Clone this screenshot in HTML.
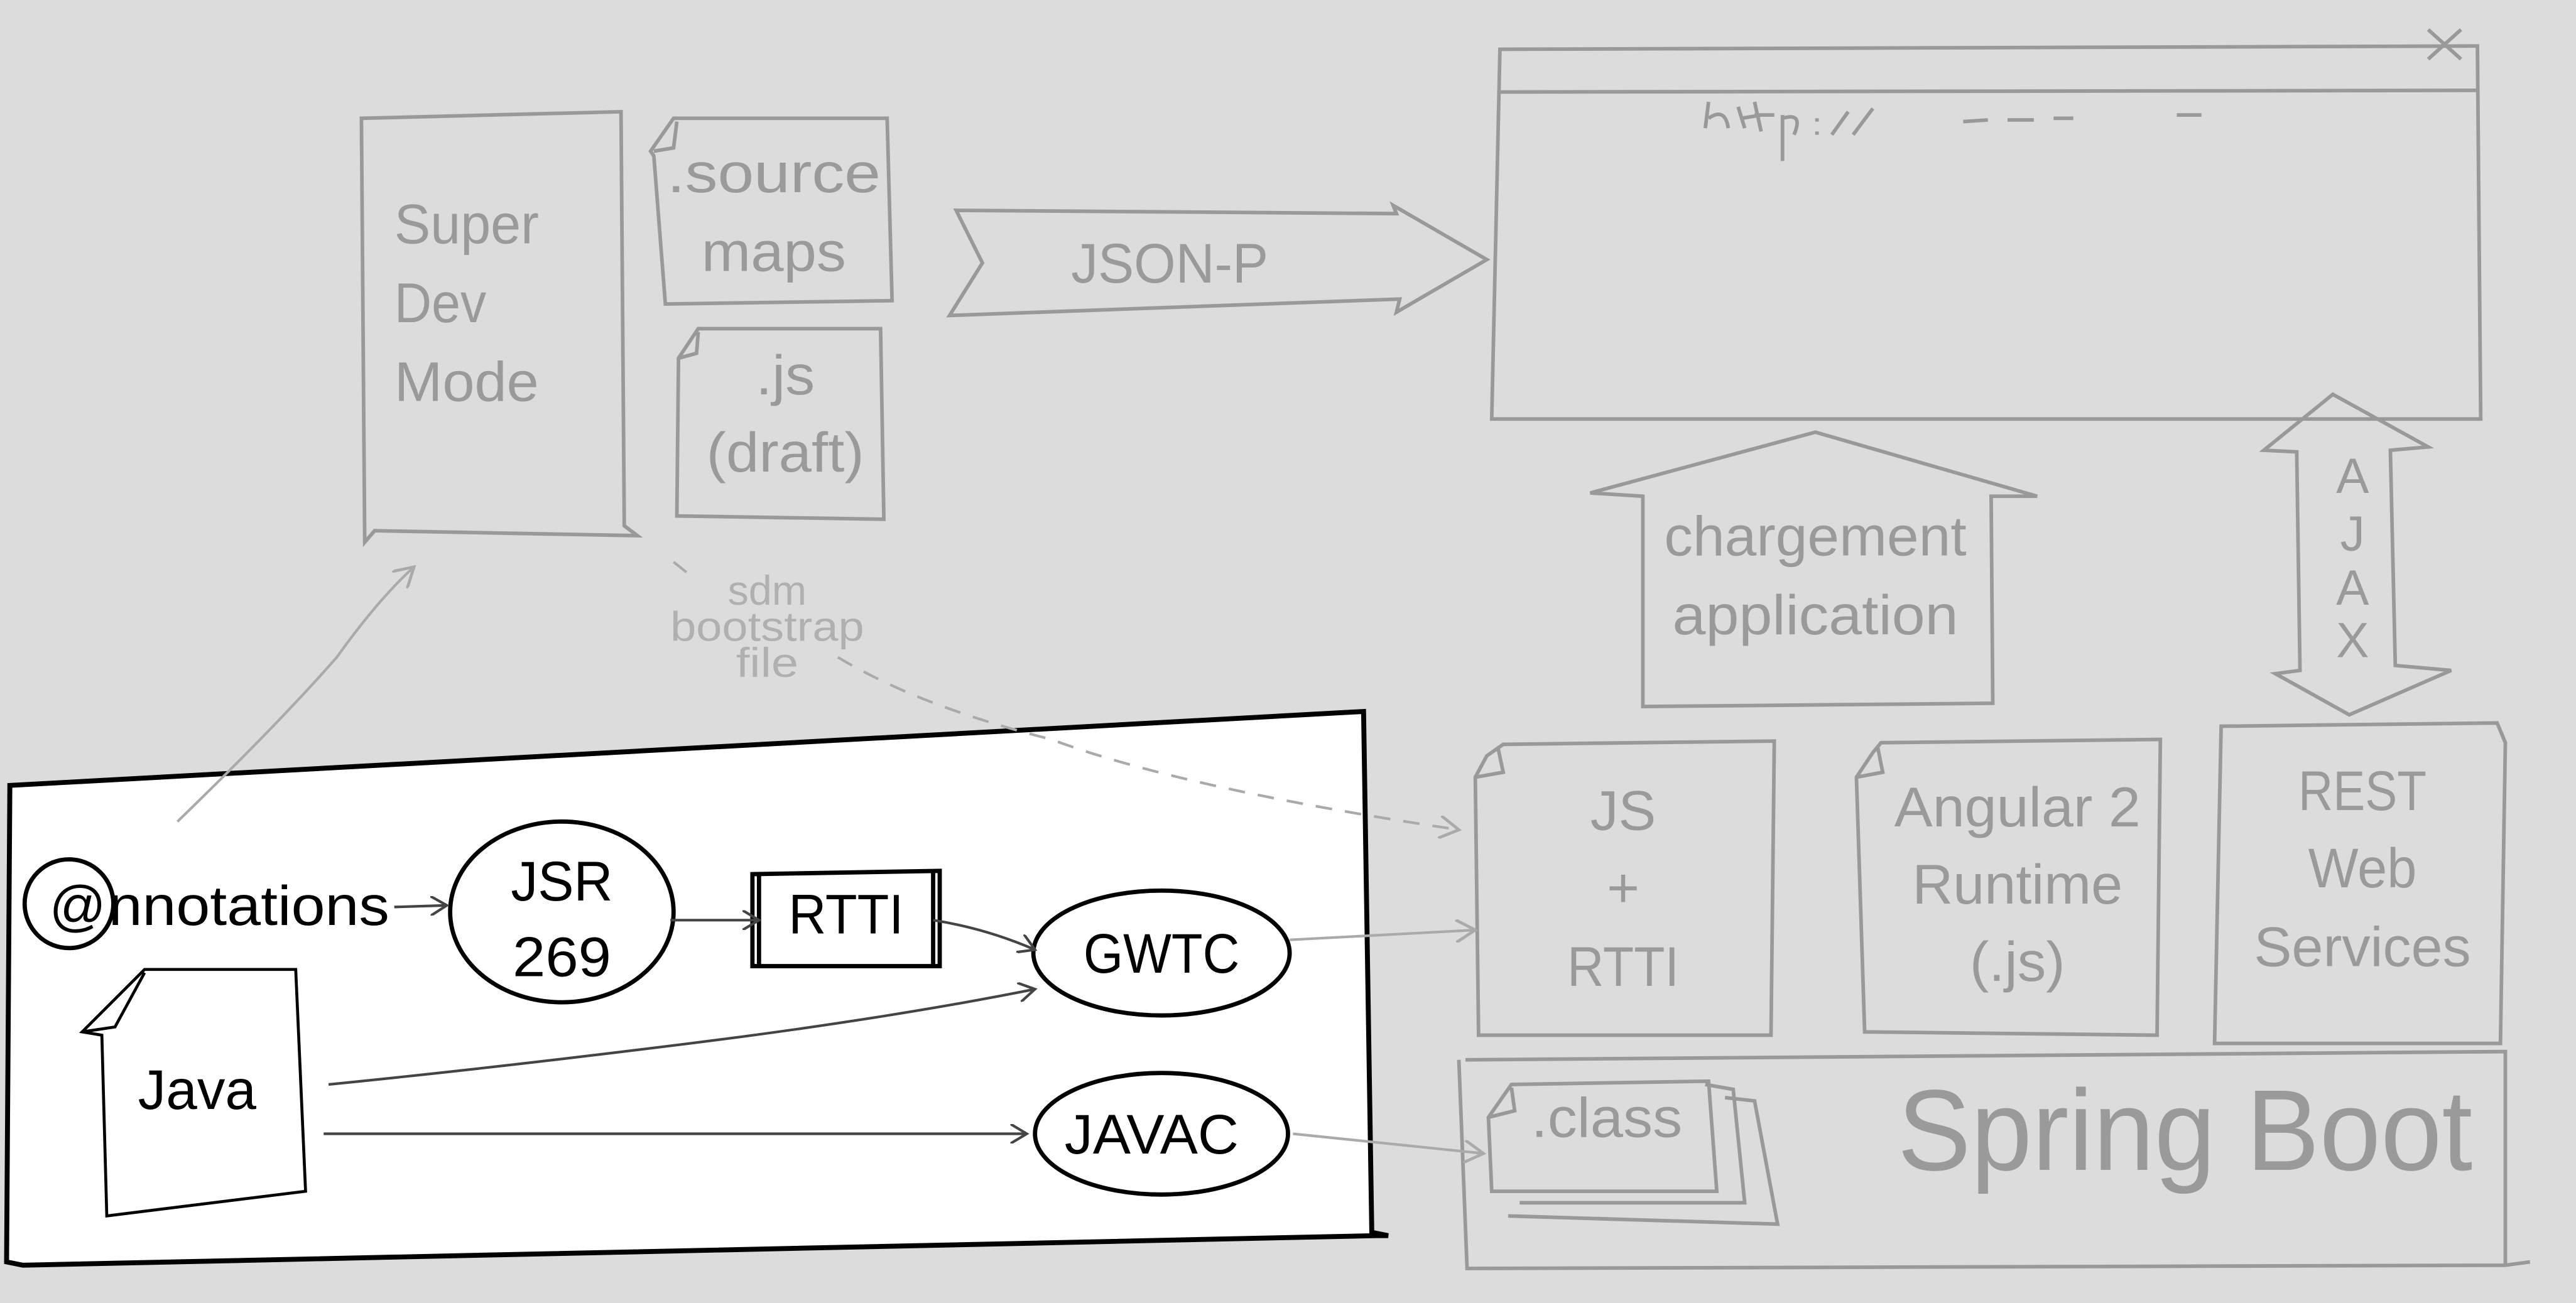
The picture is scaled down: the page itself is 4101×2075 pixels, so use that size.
<!DOCTYPE html>
<html><head><meta charset="utf-8"><style>
html,body{margin:0;padding:0;background:#dcdcdc;}
svg{display:block;}
text{font-family:"Liberation Sans",sans-serif;}
</style></head><body>
<svg width="4101" height="2075" viewBox="0 0 1568 793" preserveAspectRatio="none" xmlns="http://www.w3.org/2000/svg">
<defs>
<marker id="ab" markerWidth="12" markerHeight="12" refX="10" refY="6" orient="auto" markerUnits="userSpaceOnUse"><path d="M0,0 L10,6 L0,12" fill="none" stroke="#444" stroke-width="1.6"/></marker>
<marker id="ag" markerWidth="14" markerHeight="14" refX="12" refY="7" orient="auto" markerUnits="userSpaceOnUse"><path d="M0,0 L12,7 L0,14" fill="none" stroke="#aaa" stroke-width="1.8"/></marker>
</defs>
<rect width="1568" height="793" fill="#dcdcdc"/>
<g fill="none" stroke="#999" stroke-width="2.2">
<path d="M220,72 L378,68 L380,320 L388,326 L228,323 L222,330 Z"/>
<path d="M410,72 L540,72 L543,183 L405,185 L398,95 L396,92 Z M398,92 L410,90 L412,74"/>
<path d="M425,200 L536,200 L538,316 L412,314 L413,218 Z M413,218 L424,215 L425,202"/>
<path d="M582,128 L850,130 L848,125 L905,158 L850,190 L852,182 L578,192 L598,160 Z"/>
<path d="M913,30 L1508,28 L1510,255 L908,255 Z M913,56 L1508,55"/>
<path d="M1478,18 L1498,36 M1498,18 L1478,36"/>
<path d="M1038,78 L1040,62 M1040,72 Q1050,65 1052,78 M1058,65 L1062,78 M1060,72 L1072,70 M1068,62 L1072,80 M1068,70 L1080,70 M1085,70 L1085,98 M1085,72 Q1098,68 1092,82 M1106,72 L1106,74 M1106,80 L1106,82 M1125,68 L1115,82 M1140,66 L1128,82 M1195,74 L1210,73 M1222,73 L1238,73 M1250,72 L1262,72 M1325,70 L1340,70"/>
<path d="M1000,430 L1213,428 L1212,302 L1240,302 L1105,263 L968,300 L1000,302 Z"/>
<path d="M1420,240 L1478,272 L1455,274 L1458,405 L1492,408 L1430,435 L1385,410 L1400,408 L1398,275 L1378,274 Z"/>
<path d="M915,453 L1080,451 L1078,630 L900,630 L898,473 L905,460 Z M898,473 L915,470 L912,456"/>
<path d="M1145,452 L1315,450 L1313,630 L1135,628 L1130,473 L1140,458 Z M1130,473 L1146,470 L1143,455"/>
<path d="M1352,442 L1520,440 L1525,452 L1522,635 L1348,635 Z"/>
<path d="M892,645 L1525,640 L1525,770 L1540,768 M1525,770 L893,772 L888,645"/>
<path d="M918,740 L1082,745 L1068,670 L1050,668 M925,732 L1062,732 L1055,663 L1038,660"/>
<path d="M920,660 L1040,658 L1045,725 L908,725 L906,680 Z M906,680 L922,676 L920,662"/>
</g>
<g fill="#9a9a9a" font-size="34" lengthAdjust="spacingAndGlyphs">
<text x="240" y="148" textLength="88" lengthAdjust="spacingAndGlyphs">Super</text>
<text x="240" y="196" textLength="56" lengthAdjust="spacingAndGlyphs">Dev</text>
<text x="240" y="244" textLength="88" lengthAdjust="spacingAndGlyphs">Mode</text>
<g text-anchor="middle">
<text x="471" y="117" textLength="130" lengthAdjust="spacingAndGlyphs">.source</text>
<text x="471" y="165" textLength="88" lengthAdjust="spacingAndGlyphs">maps</text>
<text x="478" y="240" textLength="36" lengthAdjust="spacingAndGlyphs">.js</text>
<text x="478" y="287" textLength="96" lengthAdjust="spacingAndGlyphs">(draft)</text>
<text x="712" y="172" textLength="120" lengthAdjust="spacingAndGlyphs">JSON-P</text>
<text x="1105" y="338" textLength="184" lengthAdjust="spacingAndGlyphs">chargement</text>
<text x="1105" y="386" textLength="174" lengthAdjust="spacingAndGlyphs">application</text>
<text x="988" y="505" textLength="40" lengthAdjust="spacingAndGlyphs">JS</text>
<text x="988" y="552">+</text>
<text x="988" y="600" textLength="68" lengthAdjust="spacingAndGlyphs">RTTI</text>
<text x="1228" y="503" textLength="150" lengthAdjust="spacingAndGlyphs">Angular 2</text>
<text x="1228" y="550" textLength="128" lengthAdjust="spacingAndGlyphs">Runtime</text>
<text x="1228" y="597" textLength="58" lengthAdjust="spacingAndGlyphs">(.js)</text>
<text x="1438" y="493" textLength="78" lengthAdjust="spacingAndGlyphs">REST</text>
<text x="1438" y="540" textLength="66" lengthAdjust="spacingAndGlyphs">Web</text>
<text x="1438" y="588" textLength="132" lengthAdjust="spacingAndGlyphs">Services</text>
<text x="1432" y="300" font-size="30">A</text><text x="1432" y="335" font-size="30">J</text><text x="1432" y="368" font-size="30">A</text><text x="1432" y="400" font-size="30">X</text>
</g>
<text x="932" y="692" textLength="92" lengthAdjust="spacingAndGlyphs">.class</text>
<text x="1155" y="712" font-size="70" textLength="350" lengthAdjust="spacingAndGlyphs">Spring Boot</text>
</g>
<g fill="#b0b0b0" font-size="25" text-anchor="middle">
<text x="467" y="368" textLength="48" lengthAdjust="spacingAndGlyphs">sdm</text>
<text x="467" y="390" textLength="118" lengthAdjust="spacingAndGlyphs">bootstrap</text>
<text x="467" y="412" textLength="38" lengthAdjust="spacingAndGlyphs">file</text>
</g>
<path d="M6,478 L830,433 L835,750 L845,752 L838,752 L14,770 L4,768 Z" fill="#fff" stroke="#000" stroke-width="3"/>
<g fill="none" stroke="#aaa" stroke-width="1.6">
<path d="M108,500 Q170,440 205,400 Q230,365 252,345" marker-end="url(#ag)"/>
<path d="M410,342 L420,350 M510,400 Q560,430 640,450 Q720,480 888,505" stroke-dasharray="10,8" marker-end="url(#ag)"/>
<path d="M785,572 L898,566" marker-end="url(#ag)"/>
<path d="M787,690 L903,702" marker-end="url(#ag)"/>
</g>
<g fill="none" stroke="#000" stroke-width="2.6">
<circle cx="42" cy="550" r="27"/>
<ellipse cx="342" cy="555" rx="68" ry="55"/>
<path d="M458,532 L572,530 L572,588 L458,588 Z M462,532 L462,588 M568,530 L568,588"/>
<ellipse cx="707" cy="580" rx="78" ry="38"/>
<ellipse cx="707" cy="690" rx="77" ry="37"/>
<path d="M88,590 L180,590 L186,725 L65,740 L62,630 L50,628 Z M50,628 L70,625 L88,592" stroke-width="1.8"/>
</g>
<g fill="none" stroke="#444" stroke-width="1.6">
<path d="M240,552 L272,551" marker-end="url(#ab)"/>
<path d="M408,560 L462,560" marker-end="url(#ab)"/>
<path d="M568,560 Q600,565 630,578" marker-end="url(#ab)"/>
<path d="M200,660 Q300,650 420,635 Q540,620 630,602" marker-end="url(#ab)"/>
<path d="M197,690 L625,690" marker-end="url(#ab)"/>
</g>
<g fill="#000" font-size="34" text-anchor="middle">
<text x="30" y="563" text-anchor="start">@</text>
<text x="66" y="563" text-anchor="start" textLength="171" lengthAdjust="spacingAndGlyphs">nnotations</text>
<text x="342" y="548" textLength="62" lengthAdjust="spacingAndGlyphs">JSR</text>
<text x="342" y="594" textLength="60" lengthAdjust="spacingAndGlyphs">269</text>
<text x="515" y="568" textLength="70" lengthAdjust="spacingAndGlyphs">RTTI</text>
<text x="707" y="592" textLength="95" lengthAdjust="spacingAndGlyphs">GWTC</text>
<text x="701" y="702" textLength="106" lengthAdjust="spacingAndGlyphs">JAVAC</text>
<text x="120" y="675" textLength="72" lengthAdjust="spacingAndGlyphs">Java</text>
</g>
</svg>
</body></html>
